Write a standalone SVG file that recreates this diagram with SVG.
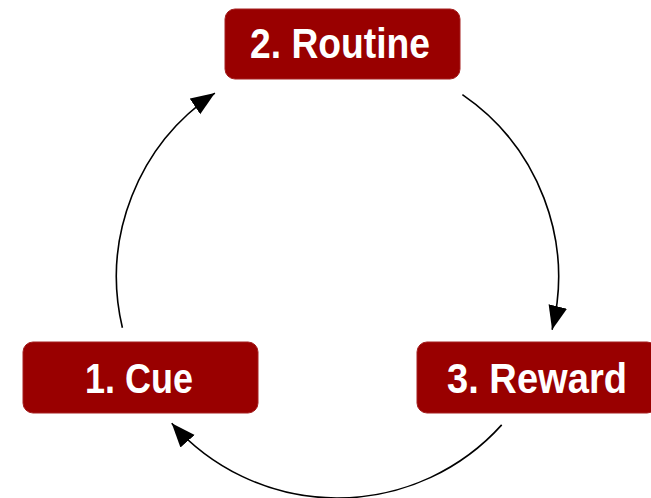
<svg xmlns="http://www.w3.org/2000/svg" width="651" height="498" viewBox="0 0 651 498">
<style>
.box{fill:#990000;stroke:#a52020;stroke-width:1}
.lbl{font-family:"Liberation Sans",Arial,sans-serif;font-weight:bold;font-size:43px;fill:#ffffff}
.arc{fill:none;stroke:#000;stroke-width:1.6}
</style>
<defs>
<marker id="ah" markerUnits="userSpaceOnUse" markerWidth="26" markerHeight="20" refX="24" refY="9.5" orient="auto">
<path d="M0,0 L24,9.5 L0,19 z" fill="#000"/>
</marker>
</defs>
<rect width="651" height="498" fill="#fff"/>
<g id="connectors">
<path class="arc" marker-end="url(#ah)" d="M122.4,327.8 A221,221 0 0 1 214.9,93.1"/>
<path class="arc" marker-end="url(#ah)" d="M462.4,94.6 A221,221 0 0 1 552.1,329.7"/>
<path class="arc" marker-end="url(#ah)" d="M501.7,424.9 A221,221 0 0 1 171.7,423.2"/>
</g>
<g id="routine">
<rect class="box" x="225" y="9" width="235" height="70" rx="10"/>
<text class="lbl" x="250" y="58" textLength="180" lengthAdjust="spacingAndGlyphs">2. Routine</text>
</g>
<g id="cue">
<rect class="box" x="23" y="342" width="235" height="71" rx="10"/>
<text class="lbl" x="85" y="393" textLength="108" lengthAdjust="spacingAndGlyphs">1. Cue</text>
</g>
<g id="reward">
<rect class="box" x="417" y="342" width="240" height="71" rx="10"/>
<text class="lbl" x="447" y="393" textLength="180" lengthAdjust="spacingAndGlyphs">3. Reward</text>
</g>
</svg>
